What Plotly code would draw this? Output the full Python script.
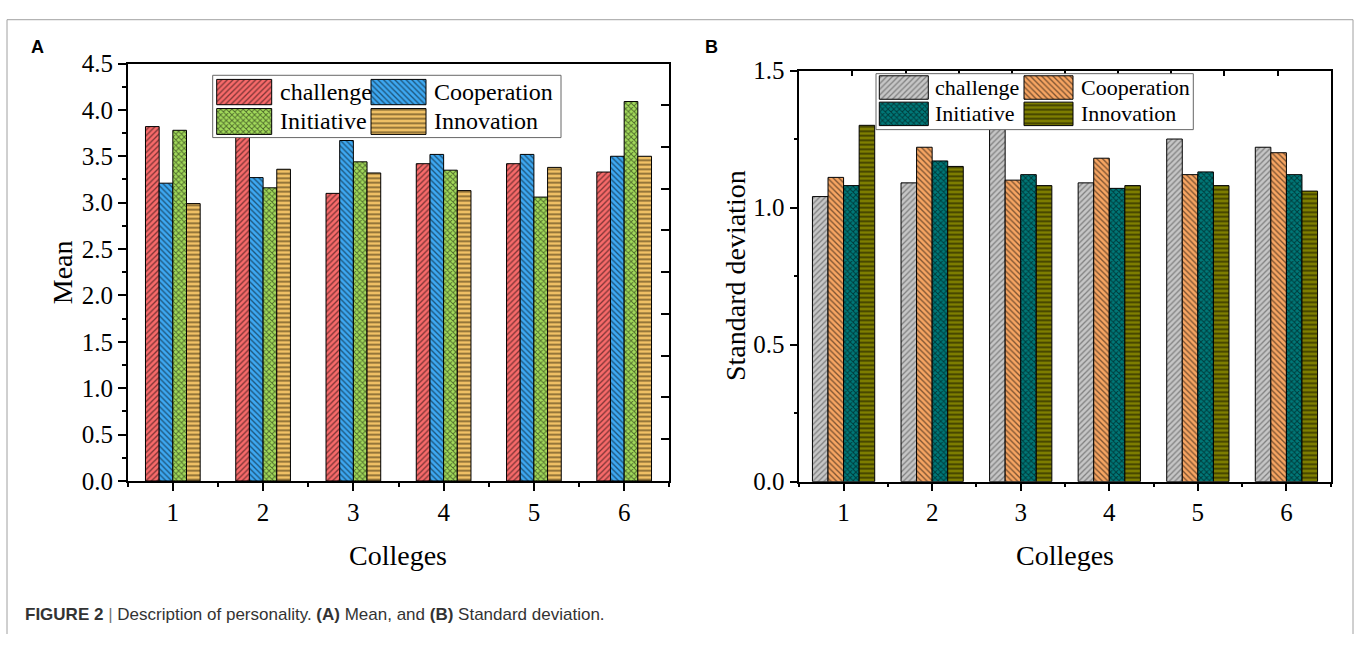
import plotly.graph_objects as go

# ---------------- data ----------------
colleges = [1, 2, 3, 4, 5, 6]
series = ["challenge", "Cooperation", "Initiative", "Innovation"]

mean_challenge = [3.82, 3.85, 3.10, 3.42, 3.42, 3.33]
mean_cooperation = [3.21, 3.27, 3.67, 3.52, 3.52, 3.50]
mean_initiative = [3.78, 3.16, 3.44, 3.35, 3.06, 4.09]
mean_innovation = [2.99, 3.36, 3.32, 3.13, 3.38, 3.50]

sd_challenge = [1.04, 1.09, 1.32, 1.09, 1.25, 1.22]
sd_cooperation = [1.11, 1.22, 1.10, 1.18, 1.12, 1.20]
sd_initiative = [1.08, 1.17, 1.12, 1.07, 1.13, 1.12]
sd_innovation = [1.30, 1.15, 1.08, 1.08, 1.08, 1.06]

mean_values = [mean_challenge, mean_cooperation, mean_initiative, mean_innovation]
sd_values = [sd_challenge, sd_cooperation, sd_initiative, sd_innovation]

x_title = "Colleges"
mean_title = "Mean"
sd_title = "Standard deviation"
caption = ("<b>FIGURE 2</b> <span style='color:#777'>|</span> Description of personality. "
           "<b>(A)</b> Mean, and <b>(B)</b> Standard deviation.")

# ---------------- layout constants (pixels) ----------------
W, H = 1356, 648
SERIF = "Liberation Serif, Times New Roman, serif"
SANS = "Liberation Sans, Arial, sans-serif"


def dom_x(a, b):
    return [a / W, b / W]


def dom_y(top, bottom):
    return [1 - bottom / H, 1 - top / H]


PA = dict(x0=127.7, x1=669.3, y0=52.7, y1=488.3)
PB = dict(x0=799.3, x1=1330.7, y0=60.0, y1=489.0)

A_STYLE = [
    dict(color="#F86A6A", shape="/", fg="#000000", size=4, sol=0.33),
    dict(color="#3DA8F2", shape="\\", fg="#000000", size=4, sol=0.33),
    dict(color="#A3DB5B", shape="x", fg="#000000", size=4, sol=0.42),
    dict(color="#F2C266", shape="-", fg="#1a1100", size=4.5, sol=0.4),
]
B_STYLE = [
    dict(color="#C6C6C6", shape="/", fg="#3a3a3a", size=4, sol=0.33),
    dict(color="#F7A562", shape="\\", fg="#000000", size=4, sol=0.33),
    dict(color="#007878", shape="x", fg="#000000", size=4, sol=0.42),
    dict(color="#7F7F00", shape="-", fg="#000000", size=4.5, sol=0.4),
]

GROUP_A = 0.606
GROUP_B = 0.703

LEG_A = dict(box=(212.7, 561.0, 65.0, 130.0),
             cols=[(216.7, 271.7), (371.0, 426.0)],
             rows=[(69.3, 95.7), (99.7, 126.7)],
             text_x=[277.7, 432.0], font=24)
LEG_B = dict(box=(876.0, 1193.3, 63.3, 121.7),
             cols=[(879.3, 928.3), (1024.0, 1073.0)],
             rows=[(65.5, 90.0), (93.0, 117.5)],
             text_x=[933.3, 1079.0], font=22)


def marker_of(st):
    return dict(color=st["color"], line=dict(color="black", width=1),
                pattern=dict(shape=st["shape"], fgcolor=st["fg"], bgcolor=st["color"],
                             size=st["size"], solidity=st["sol"]))


fig = go.Figure()

# ---------------- data bars ----------------
for values, styles, group, xa, ya in [(mean_values, A_STYLE, GROUP_A, "x", "y"),
                                      (sd_values, B_STYLE, GROUP_B, "x2", "y2")]:
    w = group / len(series)
    for i, (name, vals) in enumerate(zip(series, values)):
        fig.add_trace(go.Bar(x=colleges, y=vals, name=name, xaxis=xa, yaxis=ya,
                             width=w, offset=-group / 2 + i * w,
                             marker=marker_of(styles[i]), showlegend=False,
                             hoverinfo="skip"))

# empty traces to activate the extra tick-only axes
fig.add_trace(go.Scatter(x=[], y=[], xaxis="x", yaxis="y3", showlegend=False, hoverinfo="skip"))
fig.add_trace(go.Scatter(x=[], y=[], xaxis="x4", yaxis="y2", showlegend=False, hoverinfo="skip"))

# ---------------- custom legends (pixel axes) ----------------
annotations = []
for leg, styles in [(LEG_A, A_STYLE), (LEG_B, B_STYLE)]:
    bx0, bx1, by0, by1 = leg["box"]
    fig.add_trace(go.Bar(x=[(bx0 + bx1) / 2], y=[by1 - by0], base=[by0], width=[bx1 - bx0],
                         xaxis="x5", yaxis="y5",
                         marker=dict(color="white", line=dict(color="#666666", width=1)),
                         showlegend=False, hoverinfo="skip"))
    for i, name in enumerate(series):
        r, c = divmod(i, 2)
        cx0, cx1 = leg["cols"][c]
        ry0, ry1 = leg["rows"][r]
        fig.add_trace(go.Bar(x=[(cx0 + cx1) / 2], y=[ry1 - ry0], base=[ry0], width=[cx1 - cx0],
                             xaxis="x5", yaxis="y5", marker=marker_of(styles[i]),
                             showlegend=False, hoverinfo="skip"))
        annotations.append(dict(x=leg["text_x"][c], y=(ry0 + ry1) / 2, xref="x5", yref="y5",
                                text=name, showarrow=False, xanchor="left", yanchor="middle",
                                font=dict(family=SERIF, size=leg["font"], color="black")))

# ---------------- text ----------------
def ann(x, y, text, size, family=SERIF, angle=0, xanchor="center", color="black"):
    annotations.append(dict(x=x, y=y, xref="x5", yref="y5", text=text, showarrow=False,
                            xanchor=xanchor, yanchor="middle", textangle=angle,
                            font=dict(family=family, size=size, color=color)))


ann(398, 566, x_title, 28)
ann(1065, 566, x_title, 28)
ann(62, (PA["y0"] + PA["y1"]) / 2, mean_title, 28, angle=-90)
ann(735, (PB["y0"] + PB["y1"]) / 2, sd_title, 28, angle=-90)
ann(29, 35, "<b>A</b>", 18, family=SANS, xanchor="left")
ann(703, 35, "<b>B</b>", 18, family=SANS, xanchor="left")
ann(23, 628, caption, 17, family=SANS, xanchor="left", color="#333333")

# ---------------- axes ----------------
tickfont = dict(family=SERIF, size=25, color="black")
common_x = dict(range=[0.5, 6.5], tickmode="linear", tick0=1, dtick=1, ticks="outside",
                ticklen=8, tickwidth=1.5, tickcolor="black", showline=True,
                linecolor="black", linewidth=1.6, mirror=True, showgrid=False,
                zeroline=False, tickfont=tickfont,
                minor=dict(ticks="outside", ticklen=4, tickwidth=1.5, tickcolor="black",
                           tick0=0.5, dtick=1, showgrid=False))
common_y = dict(tickmode="linear", tick0=0, dtick=0.5, tickformat=".1f", ticks="outside",
                ticklen=8, tickwidth=1.5, tickcolor="black", showline=True,
                linecolor="black", linewidth=1.6, mirror=True, showgrid=False,
                zeroline=False, tickfont=tickfont,
                minor=dict(ticks="outside", ticklen=4, tickwidth=1.5, tickcolor="black",
                           dtick=0.25, showgrid=False))

frame = dict(type="line", xref="x5", yref="y5", line=dict(color="#A0A0A0", width=1))

fig.update_layout(
    width=W, height=H, margin=dict(l=0, r=0, t=0, b=0),
    paper_bgcolor="white", plot_bgcolor="rgba(0,0,0,0)",
    barmode="overlay", showlegend=False,
    xaxis=dict(domain=dom_x(PA["x0"], PA["x1"]), anchor="y", **common_x),
    yaxis=dict(domain=dom_y(PA["y0"], PA["y1"]), anchor="x", range=[0, 4.5], **common_y),
    xaxis2=dict(domain=dom_x(PB["x0"], PB["x1"]), anchor="y2", **common_x),
    yaxis2=dict(domain=dom_y(PB["y0"], PB["y1"]), anchor="x2", range=[0, 1.5], **common_y),
    yaxis3=dict(overlaying="y", side="right", anchor="x", range=[0, 5], tickmode="linear",
                tick0=0, dtick=0.5, ticks="inside", ticklen=8, tickwidth=1.5,
                tickcolor="black", showticklabels=False, showline=False,
                showgrid=False, zeroline=False),
    xaxis4=dict(overlaying="x2", side="top", anchor="y2", range=[0, 10], tickmode="linear",
                tick0=0, dtick=1, ticks="inside", ticklen=5, tickwidth=1.5,
                tickcolor="black", showticklabels=False, showline=False,
                showgrid=False, zeroline=False),
    xaxis5=dict(domain=[0, 1], anchor="y5", range=[0, W], visible=False, fixedrange=True),
    yaxis5=dict(domain=[0, 1], anchor="x5", range=[H, 0], visible=False, fixedrange=True),
    annotations=annotations,
    shapes=[dict(frame, x0=7, x1=1353, y0=7, y1=7),
            dict(frame, x0=7, x1=7, y0=7, y1=H),
            dict(frame, x0=1353, x1=1353, y0=7, y1=H)],
)

fig.write_html(
    "out.html",
    config={"displayModeBar": False},
    post_script="document.body.style.margin='0';document.body.style.overflow='hidden';"
                "document.documentElement.style.overflow='hidden';",
)
